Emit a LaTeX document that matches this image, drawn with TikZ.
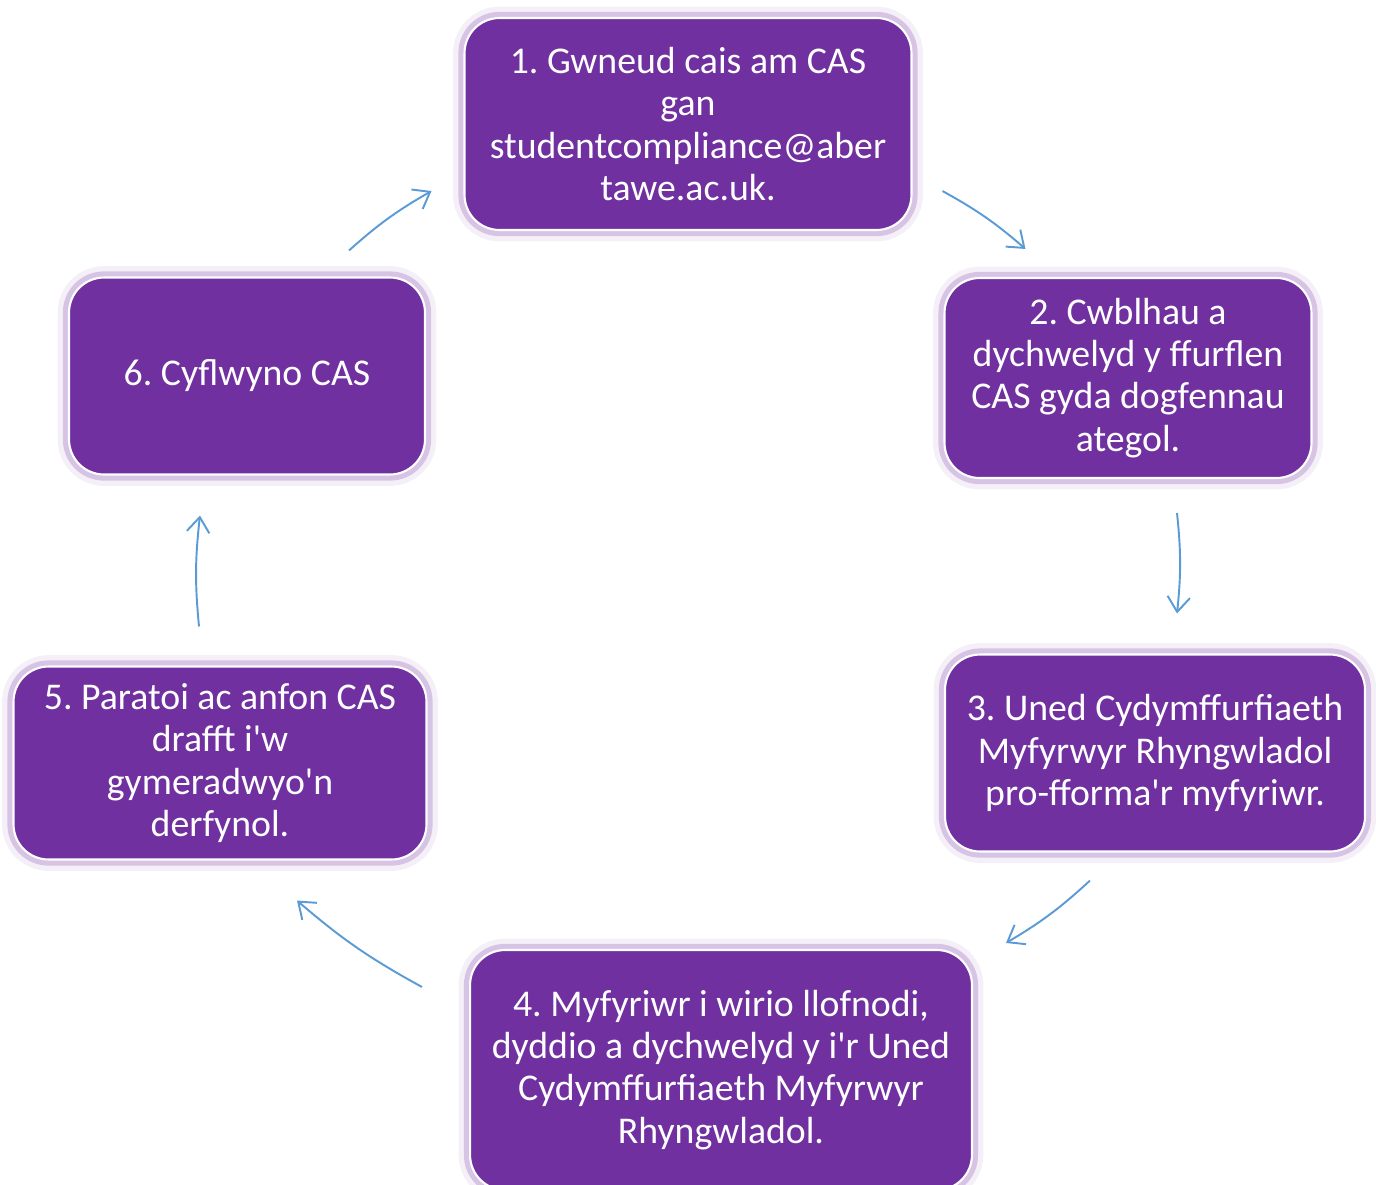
\documentclass[tikz,border=0pt]{standalone}
\usepackage{fontspec}
\setmainfont{Carlito}
\usetikzlibrary{arrows.meta}
\definecolor{cpurple}{RGB}{112,48,160}
\definecolor{cglow}{RGB}{170,130,200}
\definecolor{carrow}{RGB}{91,155,213}
\newcommand{\apos}{\textquotesingle}
\frenchspacing

\begin{document}
\begin{tikzpicture}[x=0.02cm, y=-0.02cm,
    stepbox/.style={rectangle, rounded corners=0.7cm, fill=cpurple, draw=white,
      line width=1.2pt, text=white, align=center, inner sep=0pt,
      font=\fontsize{21.5}{24}\selectfont,
      preaction={draw=cglow, line width=13pt, opacity=0.12},
      preaction={draw=cglow, line width=7pt, opacity=0.4}},
    flow/.style={draw=carrow, line width=1.1pt,
      -{Straight Barb[length=0.3cm,width=0.45cm]}, bend left=6}]
  \useasboundingbox (0,0) rectangle (1376,1184);

  \node[stepbox, minimum width=8.94cm, minimum height=4.24cm] (cas1) at (688,124)
    {1. Gwneud cais am CAS\\gan\\studentcompliance@aber\\tawe.ac.uk.};
  \node[stepbox, minimum width=7.34cm, minimum height=4.0cm] (cas2) at (1128,378)
    {2. Cwblhau a\\dychwelyd y ffurflen\\CAS gyda dogfennau\\ategol.};
  \node[stepbox, minimum width=8.4cm, minimum height=3.94cm] (cas3) at (1155,753)
    {3. Uned Cydymffurfiaeth\\Myfyrwyr Rhyngwladol\\pro-fforma\apos r myfyriwr.};
  \node[stepbox, minimum width=10.04cm, minimum height=4.8cm] (cas4) at (721,1070)
    {4. Myfyriwr i wirio llofnodi,\\dyddio a dychwelyd y i\apos r Uned\\Cydymffurfiaeth Myfyrwyr\\Rhyngwladol.};
  \node[stepbox, minimum width=8.26cm, minimum height=3.86cm] (cas5) at (220,763)
    {5. Paratoi ac anfon CAS\\drafft i\apos w\\gymeradwyo\apos n\\derfynol.};
  \node[stepbox, minimum width=7.12cm, minimum height=3.94cm] (cas6) at (247,376)
    {6. Cyflwyno CAS};

  \draw[flow] ([shift={(30,-40)}]cas1.south east) to ([shift={(82,-28)}]cas2.north west);
  \draw[flow] ([shift={(49,34)}]cas2.south) to ([shift={(22,-40)}]cas3.north);
  \draw[flow] ([shift={(-65,28)}]cas3.south) to ([shift={(33,-6)}]cas4.north east);
  \draw[flow] ([shift={(-47,38)}]cas4.north west) to ([shift={(77,40)}]cas5.south);
  \draw[flow] ([shift={(-21,-39)}]cas5.north) to ([shift={(-47,40)}]cas6.south);
  \draw[flow] ([shift={(-77,-26)}]cas6.north east) to ([shift={(-32,-40)}]cas1.south west);
\end{tikzpicture}
\end{document}
